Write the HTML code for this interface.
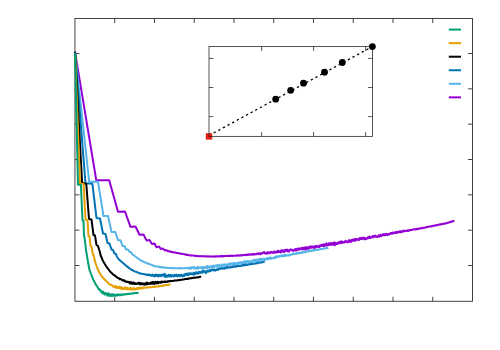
<!DOCTYPE html>
<html><head><meta charset="utf-8"><title>plot</title>
<style>html,body{margin:0;padding:0;background:#fff;font-family:"Liberation Sans",sans-serif;}svg{display:block;}</style>
</head><body>
<svg width="500" height="350" viewBox="0 0 500 350">
<rect width="500" height="350" fill="#fff"/>
<g stroke="#222" stroke-width="0.85" fill="none">
<rect x="74.95" y="18.5" width="397.55" height="282.75"/>
<path d="M114.71,301.25 v-4.5 M114.71,18.5 v4.5"/>
<path d="M154.46,301.25 v-4.5 M154.46,18.5 v4.5"/>
<path d="M194.22,301.25 v-4.5 M194.22,18.5 v4.5"/>
<path d="M233.97,301.25 v-4.5 M233.97,18.5 v4.5"/>
<path d="M273.73,301.25 v-4.5 M273.73,18.5 v4.5"/>
<path d="M313.48,301.25 v-4.5 M313.48,18.5 v4.5"/>
<path d="M353.23,301.25 v-4.5 M353.23,18.5 v4.5"/>
<path d="M392.99,301.25 v-4.5 M392.99,18.5 v4.5"/>
<path d="M432.75,301.25 v-4.5 M432.75,18.5 v4.5"/>
<path d="M74.95,53.50 h4.5 M472.5,53.50 h-4.5"/>
<path d="M74.95,88.84 h4.5 M472.5,88.84 h-4.5"/>
<path d="M74.95,124.17 h4.5 M472.5,124.17 h-4.5"/>
<path d="M74.95,159.50 h4.5 M472.5,159.50 h-4.5"/>
<path d="M74.95,194.83 h4.5 M472.5,194.83 h-4.5"/>
<path d="M74.95,230.17 h4.5 M472.5,230.17 h-4.5"/>
<path d="M74.95,265.50 h4.5 M472.5,265.50 h-4.5"/>
</g>
<path d="M75.00,51.90 L96.30,180.30 L109.20,180.30 L118.00,211.70 L125.00,211.50 L130.50,226.80 L135.50,226.50 L139.50,234.80 L143.50,234.50 L146.50,240.40 L149.50,240.00 L152.00,244.00 L154.50,243.50 L156.50,247.20 L159.00,246.60 L161.00,249.00 L163.00,248.60 L164.70,250.40 L166.50,250.10 L167.80,251.30 L169.50,251.00 L170.60,251.90 L172.00,251.70 L173.00,252.40 L174.50,252.20 L175.50,252.70 L176.40,252.79 L176.80,252.99 L177.20,253.02 L177.60,252.90 L178.00,252.96 L178.40,253.04 L178.80,253.26 L179.20,253.21 L179.60,253.48 L180.00,253.53 L180.42,253.77 L180.83,253.81 L181.25,253.61 L181.67,253.76 L182.08,253.79 L182.50,254.06 L182.92,254.10 L183.33,253.99 L183.75,254.32 L184.17,254.26 L184.58,254.40 L185.00,254.62 L185.42,254.46 L185.83,254.64 L186.25,254.79 L186.67,254.96 L187.08,254.80 L187.50,254.76 L187.92,254.78 L188.33,255.14 L188.75,255.25 L189.17,255.24 L189.58,255.27 L190.00,255.44 L190.42,255.34 L190.83,255.22 L191.25,255.51 L191.67,255.63 L192.08,255.50 L192.50,255.41 L192.92,255.52 L193.33,255.52 L193.75,255.60 L194.17,255.76 L194.58,255.68 L195.00,255.92 L195.42,256.05 L195.83,255.86 L196.25,255.92 L196.67,256.18 L197.08,255.90 L197.50,255.94 L197.92,256.11 L198.33,255.90 L198.75,256.07 L199.17,256.33 L199.58,256.18 L200.00,256.27 L200.41,256.37 L200.82,256.38 L201.24,256.20 L201.65,256.10 L202.06,256.10 L202.47,256.17 L202.88,256.24 L203.29,256.12 L203.71,256.17 L204.12,256.16 L204.53,256.41 L204.94,256.28 L205.35,256.34 L205.76,256.55 L206.18,256.41 L206.59,256.27 L207.00,256.39 L207.41,256.58 L207.82,256.27 L208.24,256.47 L208.65,256.50 L209.06,256.48 L209.47,256.61 L209.88,256.38 L210.29,256.34 L210.71,256.49 L211.12,256.41 L211.53,256.61 L211.94,256.63 L212.35,256.62 L212.76,256.38 L213.18,256.38 L213.59,256.31 L214.00,256.40 L214.40,256.67 L214.80,256.65 L215.20,256.64 L215.60,256.33 L216.00,256.31 L216.40,256.46 L216.80,256.54 L217.20,256.45 L217.60,256.21 L218.00,256.52 L218.40,256.44 L218.80,256.20 L219.20,256.25 L219.60,256.49 L220.00,256.25 L220.40,256.36 L220.80,256.11 L221.20,256.40 L221.60,256.09 L222.00,256.41 L222.40,256.14 L222.80,255.89 L223.20,256.36 L223.60,256.17 L224.00,256.12 L224.40,256.26 L224.80,256.02 L225.20,256.00 L225.60,255.99 L226.00,255.92 L226.40,256.00 L226.80,256.08 L227.20,256.00 L227.60,256.01 L228.00,256.02 L228.40,255.96 L228.80,255.76 L229.20,255.81 L229.60,256.01 L230.00,255.83 L230.40,255.90 L230.80,255.70 L231.20,255.74 L231.60,255.93 L232.00,255.82 L232.40,255.94 L232.80,255.81 L233.20,255.74 L233.60,255.70 L234.00,255.69 L234.40,255.76 L234.80,255.84 L235.20,255.66 L235.60,255.76 L236.00,255.45 L236.40,255.41 L236.80,255.39 L237.20,255.65 L237.60,255.38 L238.00,255.56 L238.40,255.63 L238.80,255.35 L239.20,255.40 L239.60,255.62 L240.00,255.26 L240.40,255.39 L240.80,255.24 L241.20,255.52 L241.60,255.34 L242.00,255.11 L242.40,255.32 L242.80,255.06 L243.20,255.32 L243.60,254.99 L244.00,254.92 L244.40,254.99 L244.80,255.02 L245.20,255.19 L245.60,254.81 L246.00,255.00 L246.40,254.69 L246.80,255.00 L247.20,254.59 L247.60,254.90 L248.00,254.52 L248.40,254.46 L248.80,254.69 L249.20,254.72 L249.60,254.48 L250.00,254.63 L250.40,254.28 L250.80,254.19 L251.20,254.36 L251.60,254.69 L252.00,254.44 L252.40,254.14 L252.80,253.93 L253.20,254.55 L253.60,254.02 L254.00,254.68 L254.40,254.55 L254.80,254.20 L255.20,254.06 L255.60,254.33 L256.00,253.93 L256.40,254.28 L256.80,253.92 L257.20,253.49 L257.60,253.45 L258.00,253.62 L258.40,253.37 L258.80,254.26 L259.20,253.52 L259.60,253.49 L260.00,253.27 L260.40,253.36 L260.80,254.23 L261.20,253.25 L261.60,253.29 L262.00,252.83 L262.40,253.43 L262.80,253.00 L263.20,252.68 L263.60,252.75 L264.00,251.97 L264.40,252.97 L264.80,253.35 L265.20,253.56 L265.60,253.47 L266.00,252.93 L266.40,253.82 L266.80,253.38 L267.20,252.25 L267.60,253.58 L268.00,253.29 L268.40,252.26 L268.80,252.83 L269.20,253.30 L269.60,252.89 L270.00,253.02 L270.40,252.18 L270.80,251.95 L271.20,251.84 L271.60,252.62 L272.00,252.70 L272.40,252.38 L272.80,252.94 L273.20,252.33 L273.60,252.59 L274.00,252.70 L274.40,251.35 L274.80,252.60 L275.20,252.58 L275.60,252.03 L276.00,251.96 L276.40,252.51 L276.80,252.21 L277.20,251.12 L277.60,252.33 L278.00,252.06 L278.40,250.77 L278.80,252.05 L279.20,252.01 L279.60,251.62 L280.00,251.46 L280.40,252.35 L280.80,252.49 L281.20,250.33 L281.60,252.05 L282.00,251.19 L282.40,250.61 L282.80,250.57 L283.20,250.37 L283.60,252.11 L284.00,251.77 L284.40,251.87 L284.80,250.38 L285.20,250.87 L285.60,249.79 L286.00,250.73 L286.40,250.00 L286.80,250.34 L287.20,249.60 L287.60,251.39 L288.00,251.54 L288.40,251.43 L288.80,250.20 L289.20,251.53 L289.60,250.06 L290.00,249.82 L290.40,249.38 L290.80,249.73 L291.20,249.59 L291.60,250.11 L292.00,249.75 L292.40,250.82 L292.80,250.20 L293.20,250.83 L293.60,250.28 L294.00,250.25 L294.40,250.24 L294.80,249.16 L295.20,250.51 L295.60,249.45 L296.00,249.01 L296.40,250.45 L296.80,249.69 L297.20,249.41 L297.60,248.50 L298.00,248.53 L298.40,249.11 L298.80,249.95 L299.20,248.89 L299.60,248.27 L300.00,248.54 L300.40,248.25 L300.80,248.92 L301.20,249.26 L301.60,248.47 L302.00,248.33 L302.40,247.58 L302.80,249.52 L303.20,248.44 L303.60,249.18 L304.00,247.82 L304.40,248.05 L304.80,249.22 L305.20,249.81 L305.60,247.08 L306.00,248.93 L306.40,248.39 L306.80,247.71 L307.20,248.61 L307.60,248.88 L308.00,246.93 L308.40,247.78 L308.80,248.65 L309.20,247.95 L309.60,247.47 L310.00,246.50 L310.40,246.87 L310.80,247.73 L311.20,246.53 L311.60,247.60 L312.00,246.39 L312.40,247.24 L312.80,246.89 L313.20,247.52 L313.60,246.59 L314.00,247.98 L314.40,247.76 L314.80,246.28 L315.20,247.82 L315.60,245.91 L316.00,246.70 L316.40,246.45 L316.80,246.92 L317.20,245.88 L317.60,246.05 L318.00,246.73 L318.40,246.91 L318.80,246.19 L319.20,247.14 L319.60,246.74 L320.00,245.34 L320.40,245.43 L320.80,245.80 L321.20,245.13 L321.60,246.02 L322.00,244.81 L322.40,244.88 L322.80,244.65 L323.20,244.40 L323.60,246.16 L324.00,245.73 L324.40,246.09 L324.80,244.37 L325.20,245.53 L325.60,245.28 L326.00,244.57 L326.40,243.31 L326.80,244.21 L327.20,245.62 L327.60,245.57 L328.00,244.16 L328.40,245.11 L328.80,243.33 L329.20,243.97 L329.60,243.50 L330.00,244.97 L330.40,243.84 L330.80,244.56 L331.20,242.89 L331.60,244.78 L332.00,244.33 L332.40,243.37 L332.80,244.67 L333.20,243.08 L333.60,243.14 L334.00,242.39 L334.40,244.33 L334.80,245.30 L335.20,242.71 L335.60,244.23 L336.00,242.92 L336.40,242.95 L336.80,243.98 L337.20,243.65 L337.60,243.63 L338.00,243.09 L338.40,242.40 L338.80,243.35 L339.20,242.00 L339.60,242.05 L340.00,241.52 L340.40,242.10 L340.80,243.26 L341.20,241.84 L341.60,241.41 L342.00,242.69 L342.40,241.59 L342.80,242.37 L343.20,242.59 L343.60,242.35 L344.00,242.67 L344.40,242.01 L344.80,242.32 L345.20,241.18 L345.60,240.91 L346.00,241.78 L346.40,241.32 L346.80,241.50 L347.20,242.10 L347.60,242.44 L348.00,241.24 L348.40,241.98 L348.80,240.15 L349.20,240.25 L349.60,242.05 L350.00,241.89 L350.40,241.68 L350.80,240.27 L351.20,241.71 L351.60,240.87 L352.00,239.96 L352.40,239.73 L352.80,239.90 L353.20,240.71 L353.60,239.23 L354.00,240.62 L354.40,239.74 L354.80,240.74 L355.20,239.05 L355.60,239.71 L356.00,240.18 L356.40,239.06 L356.80,239.53 L357.20,239.23 L357.60,239.17 L358.00,239.20 L358.40,240.24 L358.80,239.07 L359.20,239.80 L359.60,238.14 L360.00,238.99 L360.40,238.88 L360.80,238.93 L361.20,237.88 L361.60,239.18 L362.00,237.90 L362.40,238.45 L362.80,237.88 L363.20,238.64 L363.60,237.67 L364.00,239.13 L364.40,237.72 L364.80,239.29 L365.20,238.21 L365.60,239.12 L366.00,239.00 L366.40,238.76 L366.80,238.61 L367.20,237.70 L367.60,238.56 L368.00,237.15 L368.40,237.74 L368.80,236.81 L369.20,238.06 L369.60,236.49 L370.00,237.99 L370.40,238.10 L370.80,237.51 L371.20,237.50 L371.60,236.98 L372.00,236.92 L372.40,236.90 L372.80,235.90 L373.20,236.86 L373.60,237.39 L374.00,236.65 L374.40,236.62 L374.80,235.79 L375.20,235.64 L375.60,236.49 L376.00,236.69 L376.40,236.83 L376.80,236.28 L377.20,236.19 L377.60,237.05 L378.00,236.77 L378.40,236.43 L378.80,235.25 L379.20,235.79 L379.60,236.57 L380.00,236.23 L380.40,234.73 L380.80,236.01 L381.20,236.20 L381.60,235.97 L382.00,235.29 L382.40,234.66 L382.80,235.15 L383.20,234.20 L383.60,234.37 L384.00,235.24 L384.40,234.24 L384.80,234.08 L385.20,234.93 L385.60,235.27 L386.00,234.68 L386.40,233.79 L386.80,234.62 L387.20,234.82 L387.60,235.07 L388.00,233.94 L388.40,234.00 L388.80,234.42 L389.20,234.46 L389.60,234.10 L390.00,233.93 L390.40,233.14 L390.80,232.93 L391.20,233.75 L391.60,233.51 L392.00,232.87 L392.40,233.79 L392.80,232.54 L393.20,232.62 L393.60,232.71 L394.00,233.15 L394.40,233.12 L394.80,232.37 L395.20,232.45 L395.60,232.18 L396.00,233.13 L396.40,232.44 L396.80,231.86 L397.20,232.49 L397.60,232.52 L398.00,232.80 L398.40,231.87 L398.80,231.55 L399.20,231.91 L399.60,231.43 L400.00,231.31 L400.40,232.30 L400.80,231.38 L401.20,231.65 L401.60,231.90 L402.00,231.28 L402.40,230.93 L402.80,231.62 L403.20,230.75 L403.60,231.42 L404.00,231.34 L404.40,230.77 L404.80,230.72 L405.20,230.76 L405.60,231.03 L406.00,230.98 L406.40,230.77 L406.80,230.91 L407.20,230.40 L407.60,230.92 L408.00,231.09 L408.40,230.22 L408.80,230.54 L409.20,230.47 L409.60,230.51 L410.00,229.97 L410.40,230.19 L410.80,230.15 L411.20,229.95 L411.60,230.04 L412.00,229.80 L412.40,229.82 L412.80,229.54 L413.20,229.40 L413.60,229.18 L414.00,229.31 L414.40,229.38 L414.80,229.15 L415.20,229.44 L415.60,229.38 L416.00,229.01 L416.40,229.09 L416.80,229.23 L417.20,228.83 L417.60,229.15 L418.00,228.73 L418.40,228.65 L418.80,228.89 L419.20,228.72 L419.60,228.64 L420.00,228.32 L420.40,228.53 L420.80,228.26 L421.20,228.05 L421.60,228.08 L422.00,228.04 L422.40,228.22 L422.80,228.09 L423.20,227.65 L423.60,227.75 L424.00,227.63 L424.40,227.64 L424.80,227.70 L425.20,227.60 L425.60,227.16 L426.00,227.42 L426.40,227.00 L426.80,227.14 L427.20,226.92 L427.60,226.91 L428.00,226.79 L428.40,226.72 L428.80,226.83 L429.20,226.49 L429.60,226.40 L430.00,226.59 L430.40,226.48 L430.80,226.30 L431.20,226.43 L431.60,226.52 L432.00,225.97 L432.40,226.20 L432.80,225.89 L433.20,225.74 L433.60,225.79 L434.00,225.81 L434.40,225.55 L434.80,225.39 L435.20,225.53 L435.60,225.23 L436.00,225.42 L436.40,225.06 L436.80,225.31 L437.20,224.92 L437.60,225.07 L438.00,224.75 L438.40,224.71 L438.80,224.75 L439.20,224.58 L439.60,224.79 L440.00,224.32 L440.40,224.24 L440.80,224.55 L441.20,224.36 L441.60,224.05 L442.00,223.93 L442.40,223.97 L442.80,223.90 L443.20,223.95 L443.60,223.84 L444.00,223.54 L444.40,223.58 L444.80,223.72 L445.20,223.49 L445.60,223.35 L446.00,223.40 L446.42,223.30 L446.84,223.22 L447.26,223.00 L447.68,222.74 L448.10,222.52 L448.52,222.70 L448.94,222.52 L449.36,222.31 L449.78,222.27 L450.20,222.18 L450.62,221.84 L451.04,221.98 L451.46,221.74 L451.88,221.42 L452.30,221.35 L452.72,221.57 L453.14,221.08 L453.56,221.16 L453.98,221.03 L454.40,221.04" fill="none" stroke="#9400d3" stroke-width="2" stroke-linejoin="round" stroke-linecap="butt"/>
<path d="M75.00,51.90 L89.20,181.80 L98.00,181.80 L103.50,216.00 L108.00,216.00 L111.50,232.00 L115.30,232.00 L118.00,240.30 L120.50,240.20 L122.50,246.00 L124.50,246.00 L126.00,249.50 L128.00,249.50 L129.50,252.00 L131.00,252.00 L132.00,254.00 L136.00,257.00 L140.00,260.00 L147.00,263.30 L147.41,263.42 L147.82,263.49 L148.24,263.72 L148.65,263.76 L149.06,264.01 L149.47,264.13 L149.88,264.18 L150.29,264.49 L150.71,264.62 L151.12,264.72 L151.53,265.16 L151.94,265.02 L152.35,265.25 L152.76,265.29 L153.18,265.72 L153.59,265.73 L154.00,265.79 L154.41,265.92 L154.82,266.18 L155.24,266.12 L155.65,266.23 L156.06,266.42 L156.47,266.50 L156.88,266.39 L157.29,266.48 L157.71,266.39 L158.12,266.58 L158.53,266.66 L158.94,266.79 L159.35,266.96 L159.76,267.14 L160.18,266.87 L160.59,267.29 L161.00,267.06 L161.41,267.35 L161.82,267.10 L162.24,267.40 L162.65,267.23 L163.06,267.33 L163.47,267.42 L163.88,267.69 L164.29,267.44 L164.71,267.67 L165.12,267.74 L165.53,267.83 L165.94,267.64 L166.35,267.82 L166.76,267.83 L167.18,267.93 L167.59,267.85 L168.00,268.00 L168.41,268.00 L168.82,268.02 L169.24,268.05 L169.65,267.85 L170.06,268.05 L170.47,268.14 L170.88,268.03 L171.29,268.28 L171.71,268.16 L172.12,267.93 L172.53,268.20 L172.94,268.07 L173.35,268.16 L173.76,268.32 L174.18,268.26 L174.59,268.12 L175.00,268.15 L175.41,268.21 L175.82,268.08 L176.24,268.17 L176.65,268.33 L177.06,268.33 L177.47,268.20 L177.88,268.20 L178.29,268.26 L178.71,268.13 L179.12,268.12 L179.53,268.25 L179.94,268.02 L180.35,268.35 L180.76,268.02 L181.18,268.00 L181.59,268.37 L182.00,268.26 L182.41,268.36 L182.82,268.24 L183.24,268.27 L183.65,268.27 L184.06,268.27 L184.47,268.33 L184.88,267.98 L185.29,268.36 L185.71,268.28 L186.12,268.41 L186.53,268.22 L186.94,268.00 L187.35,268.00 L187.76,268.29 L188.18,267.72 L188.59,267.68 L189.00,268.48 L189.41,268.62 L189.82,267.58 L190.24,268.25 L190.65,268.74 L191.06,268.02 L191.47,268.33 L191.88,267.15 L192.29,267.41 L192.71,267.56 L193.12,267.49 L193.53,266.94 L193.94,268.47 L194.35,268.50 L194.76,267.33 L195.18,268.48 L195.59,268.52 L196.00,268.34 L196.41,268.00 L196.82,267.57 L197.24,268.90 L197.65,267.01 L198.06,268.65 L198.47,267.55 L198.88,267.20 L199.29,267.88 L199.71,267.60 L200.12,267.73 L200.53,267.06 L200.94,267.52 L201.35,268.08 L201.76,267.52 L202.18,268.73 L202.59,267.87 L203.00,266.73 L203.41,268.10 L203.81,267.23 L204.22,268.61 L204.63,267.73 L205.04,267.30 L205.44,267.14 L205.85,267.59 L206.26,267.99 L206.67,266.17 L207.07,267.05 L207.48,267.87 L207.89,266.12 L208.30,267.76 L208.70,267.18 L209.11,267.75 L209.52,267.34 L209.93,266.54 L210.33,266.95 L210.74,266.13 L211.15,267.69 L211.56,266.92 L211.96,266.56 L212.37,266.05 L212.78,267.19 L213.19,265.59 L213.59,267.05 L214.00,266.58 L214.40,267.20 L214.80,266.25 L215.20,265.56 L215.60,265.49 L216.00,265.84 L216.40,265.88 L216.80,265.27 L217.20,267.08 L217.60,265.07 L218.00,266.52 L218.40,266.05 L218.80,265.87 L219.20,264.71 L219.60,266.49 L220.00,265.78 L220.40,266.19 L220.80,266.51 L221.20,266.18 L221.60,264.88 L222.00,264.71 L222.40,264.40 L222.80,265.39 L223.20,265.13 L223.60,266.07 L224.00,265.33 L224.40,264.23 L224.80,264.48 L225.20,265.27 L225.60,265.28 L226.00,264.74 L226.40,265.83 L226.80,264.14 L227.20,264.17 L227.60,265.54 L228.00,265.34 L228.40,265.18 L228.80,264.83 L229.20,263.48 L229.60,264.97 L230.00,264.75 L230.40,264.51 L230.80,263.39 L231.20,263.68 L231.60,264.12 L232.00,263.54 L232.40,264.85 L232.80,264.50 L233.20,262.95 L233.60,263.31 L234.00,264.68 L234.40,263.03 L234.80,262.89 L235.20,264.48 L235.60,263.57 L236.00,264.34 L236.40,263.86 L236.80,262.92 L237.20,263.95 L237.60,262.65 L238.00,262.87 L238.40,262.58 L238.80,264.04 L239.20,262.51 L239.60,262.79 L240.00,262.29 L240.40,262.12 L240.80,263.42 L241.20,262.95 L241.60,262.42 L242.00,262.60 L242.40,263.93 L242.80,261.88 L243.20,263.57 L243.60,263.12 L244.00,264.66 L244.40,263.16 L244.80,260.84 L245.20,263.08 L245.60,261.59 L246.00,263.12 L246.40,262.30 L246.80,261.37 L247.20,262.47 L247.60,261.01 L248.00,262.11 L248.40,261.31 L248.80,261.98 L249.20,262.35 L249.60,260.94 L250.00,262.04 L250.40,261.95 L250.80,262.07 L251.20,262.07 L251.60,261.22 L252.00,262.08 L252.40,261.92 L252.80,260.37 L253.20,260.69 L253.60,260.64 L254.00,259.79 L254.40,260.66 L254.80,259.91 L255.20,261.30 L255.60,260.19 L256.00,260.25 L256.40,259.53 L256.80,261.30 L257.20,260.33 L257.60,260.39 L258.00,261.12 L258.40,259.46 L258.80,259.54 L259.20,259.03 L259.60,260.30 L260.00,258.89 L260.40,259.93 L260.80,260.11 L261.20,260.37 L261.60,258.70 L262.00,259.50 L262.40,259.03 L262.80,259.20 L263.20,259.49 L263.60,258.58 L264.00,259.65 L264.40,259.73 L264.80,258.85 L265.20,259.62 L265.60,258.73 L266.00,259.36 L266.40,258.32 L266.80,258.61 L267.20,259.21 L267.60,259.16 L268.00,257.73 L268.40,259.28 L268.80,257.95 L269.20,258.56 L269.60,258.32 L270.00,258.08 L270.40,257.30 L270.80,258.86 L271.20,258.73 L271.60,258.43 L272.00,258.48 L272.40,258.00 L272.80,257.98 L273.20,257.68 L273.60,257.74 L274.00,257.50 L274.40,258.13 L274.80,257.01 L275.20,256.64 L275.60,257.90 L276.00,256.73 L276.40,257.08 L276.80,256.36 L277.20,256.56 L277.60,256.48 L278.00,256.10 L278.40,257.18 L278.80,256.69 L279.20,256.06 L279.60,256.38 L280.00,256.53 L280.40,256.01 L280.80,255.81 L281.20,255.98 L281.60,255.36 L282.00,256.52 L282.40,256.01 L282.80,255.55 L283.20,255.49 L283.60,255.23 L284.00,256.15 L284.40,254.95 L284.80,255.40 L285.20,254.88 L285.60,255.96 L286.00,254.80 L286.40,255.00 L286.80,255.27 L287.20,255.47 L287.60,255.29 L288.00,255.24 L288.40,255.19 L288.80,255.29 L289.20,255.62 L289.60,254.95 L290.00,254.54 L290.40,254.56 L290.80,254.75 L291.20,254.46 L291.60,254.20 L292.00,254.45 L292.40,253.98 L292.80,253.91 L293.20,254.31 L293.60,253.90 L294.00,253.47 L294.40,253.35 L294.80,253.78 L295.20,254.08 L295.60,253.92 L296.00,253.98 L296.40,253.32 L296.80,252.80 L297.20,253.33 L297.60,253.63 L298.00,253.15 L298.40,253.06 L298.80,253.16 L299.20,252.75 L299.60,252.68 L300.00,252.93 L300.40,252.29 L300.80,252.52 L301.20,252.61 L301.60,252.92 L302.00,252.34 L302.40,252.80 L302.80,252.29 L303.20,251.89 L303.60,252.56 L304.00,252.07 L304.40,252.34 L304.80,252.20 L305.20,252.19 L305.60,251.49 L306.00,251.72 L306.40,251.38 L306.80,251.69 L307.20,251.39 L307.60,251.55 L308.00,251.30 L308.40,251.15 L308.80,250.84 L309.20,251.43 L309.60,251.23 L310.00,251.03 L310.40,250.78 L310.80,250.91 L311.20,250.88 L311.60,250.48 L312.00,250.87 L312.40,250.34 L312.80,250.56 L313.20,250.56 L313.60,249.82 L314.00,250.52 L314.40,250.41 L314.80,249.99 L315.20,249.88 L315.60,250.12 L316.00,249.97 L316.41,249.66 L316.82,249.91 L317.23,249.75 L317.64,249.58 L318.05,249.89 L318.46,249.48 L318.87,249.68 L319.28,249.49 L319.69,249.37 L320.10,249.17 L320.51,249.34 L320.92,249.07 L321.33,249.08 L321.74,248.90 L322.15,248.88 L322.56,249.09 L322.97,248.84 L323.38,248.75 L323.79,248.63 L324.20,248.43 L324.61,248.46 L325.02,248.32 L325.43,248.27 L325.84,248.39 L326.25,248.10 L326.66,248.00 L327.07,248.26 L327.48,248.02 L327.89,248.10 L328.30,247.84" fill="none" stroke="#56b4e9" stroke-width="2" stroke-linejoin="round" stroke-linecap="butt"/>
<path d="M75.00,51.90 L85.50,183.30 L92.40,183.80 L96.50,218.00 L100.00,218.50 L103.00,233.50 L105.50,234.00 L107.50,243.00 L109.50,243.50 L111.50,249.50 L113.00,250.00 L114.50,253.50 L116.00,254.00 L117.00,257.00 L119.00,259.50 L123.00,263.00 L127.00,266.40 L129.50,268.35 L130.00,268.68 L130.42,269.04 L130.83,269.25 L131.25,269.58 L131.67,269.89 L132.08,269.91 L132.50,270.24 L132.92,270.58 L133.33,270.67 L133.75,270.81 L134.17,271.09 L134.58,271.39 L135.00,271.56 L135.42,271.62 L135.83,271.83 L136.25,271.89 L136.67,272.14 L137.08,272.27 L137.50,272.42 L137.92,272.50 L138.33,272.71 L138.75,273.11 L139.17,273.25 L139.58,273.10 L140.00,273.21 L140.41,273.55 L140.82,273.53 L141.24,273.73 L141.65,273.87 L142.06,273.86 L142.47,273.74 L142.88,274.07 L143.29,273.88 L143.71,274.01 L144.12,274.14 L144.53,274.12 L144.94,274.44 L145.35,274.61 L145.76,274.65 L146.18,274.60 L146.59,274.54 L147.00,275.02 L147.41,274.68 L147.82,275.15 L148.24,274.51 L148.65,274.58 L149.06,274.68 L149.47,275.28 L149.88,275.27 L150.29,275.38 L150.71,274.83 L151.12,275.76 L151.53,275.80 L151.94,275.58 L152.35,275.46 L152.76,274.56 L153.18,275.21 L153.59,276.13 L154.00,275.89 L154.40,275.80 L154.80,274.95 L155.20,276.40 L155.60,275.54 L156.00,274.49 L156.40,275.27 L156.80,275.06 L157.20,275.95 L157.60,274.93 L158.00,275.55 L158.40,276.48 L158.80,275.10 L159.20,274.76 L159.60,275.19 L160.00,275.68 L160.40,274.86 L160.80,275.81 L161.20,276.19 L161.60,274.77 L162.00,275.32 L162.40,274.67 L162.80,274.99 L163.20,275.55 L163.60,275.29 L164.00,275.38 L164.40,273.81 L164.80,276.79 L165.20,274.80 L165.60,276.79 L166.00,274.88 L166.40,275.61 L166.80,275.96 L167.20,276.70 L167.60,276.07 L168.00,276.14 L168.40,275.23 L168.80,274.73 L169.20,276.50 L169.60,275.05 L170.00,276.49 L170.40,274.98 L170.80,276.43 L171.20,275.30 L171.60,276.39 L172.00,275.37 L172.40,275.36 L172.80,275.06 L173.20,275.76 L173.60,276.30 L174.00,276.48 L174.40,275.56 L174.80,274.80 L175.20,275.72 L175.60,275.94 L176.00,275.39 L176.40,274.60 L176.80,275.35 L177.20,276.45 L177.60,276.21 L178.00,276.07 L178.40,274.95 L178.80,275.45 L179.20,275.05 L179.60,275.75 L180.00,276.26 L180.40,274.91 L180.80,275.48 L181.20,274.66 L181.60,274.93 L182.00,276.34 L182.40,276.04 L182.80,276.20 L183.20,275.80 L183.60,275.45 L184.00,274.55 L184.40,275.94 L184.80,275.20 L185.20,274.48 L185.60,273.72 L186.00,275.09 L186.40,273.73 L186.80,274.30 L187.20,274.34 L187.60,274.60 L188.00,273.55 L188.40,275.20 L188.80,273.43 L189.20,273.68 L189.60,274.23 L190.00,274.08 L190.40,273.44 L190.80,273.13 L191.20,274.11 L191.60,273.66 L192.00,273.67 L192.40,273.85 L192.80,274.25 L193.20,274.70 L193.60,272.68 L194.00,273.26 L194.40,274.45 L194.80,273.98 L195.20,273.93 L195.60,272.69 L196.00,272.15 L196.40,272.51 L196.80,273.51 L197.20,273.82 L197.60,273.71 L198.00,273.73 L198.40,272.09 L198.80,272.39 L199.20,273.02 L199.60,271.81 L200.00,273.00 L200.40,272.89 L200.80,272.59 L201.20,272.41 L201.60,271.47 L202.00,272.52 L202.40,271.50 L202.80,272.69 L203.20,270.47 L203.60,271.15 L204.00,271.23 L204.40,271.36 L204.80,271.47 L205.20,272.32 L205.60,271.91 L206.00,273.14 L206.40,271.13 L206.80,271.35 L207.20,271.82 L207.60,270.64 L208.00,271.46 L208.40,271.03 L208.80,271.61 L209.20,271.59 L209.60,270.14 L210.00,270.31 L210.40,270.88 L210.80,270.10 L211.20,270.53 L211.60,270.32 L212.00,269.62 L212.40,269.82 L212.80,270.22 L213.20,269.48 L213.60,270.41 L214.00,269.71 L214.40,269.62 L214.80,269.96 L215.20,270.61 L215.60,269.87 L216.00,270.26 L216.40,269.83 L216.80,269.35 L217.20,269.92 L217.60,270.05 L218.00,269.05 L218.40,269.60 L218.80,269.38 L219.20,269.18 L219.60,268.43 L220.00,268.72 L220.40,268.87 L220.80,268.47 L221.20,268.54 L221.60,268.02 L222.00,268.54 L222.40,268.62 L222.80,268.02 L223.20,268.13 L223.60,268.59 L224.00,268.78 L224.40,268.68 L224.80,267.57 L225.20,268.11 L225.60,267.77 L226.00,267.78 L226.40,267.28 L226.80,268.18 L227.20,267.09 L227.60,267.19 L228.00,267.73 L228.40,267.33 L228.80,267.50 L229.20,267.49 L229.60,267.52 L230.00,267.32 L230.40,267.48 L230.80,266.94 L231.20,266.72 L231.60,267.36 L232.00,267.35 L232.40,266.70 L232.80,266.96 L233.20,266.93 L233.60,266.28 L234.00,266.22 L234.40,266.43 L234.80,266.62 L235.20,266.41 L235.60,266.79 L236.00,266.78 L236.40,266.40 L236.80,266.10 L237.20,265.90 L237.60,266.35 L238.00,266.32 L238.40,266.04 L238.80,266.00 L239.20,265.98 L239.60,266.02 L240.00,265.94 L240.40,265.93 L240.80,265.86 L241.20,265.58 L241.60,265.57 L242.00,265.01 L242.40,265.42 L242.80,265.56 L243.20,265.63 L243.60,265.42 L244.00,264.92 L244.40,264.88 L244.80,265.11 L245.20,265.27 L245.60,264.77 L246.00,265.03 L246.40,264.49 L246.80,264.92 L247.20,264.96 L247.60,264.73 L248.00,264.74 L248.40,264.46 L248.80,264.30 L249.20,264.23 L249.60,264.32 L250.00,264.11 L250.40,264.20 L250.80,264.38 L251.20,264.00 L251.60,263.96 L252.00,263.88 L252.40,264.05 L252.80,263.79 L253.20,263.70 L253.60,263.61 L254.00,263.86 L254.40,263.75 L254.80,263.48 L255.20,263.51 L255.60,263.31 L256.00,263.44 L256.40,263.36 L256.80,263.12 L257.20,263.11 L257.60,263.25 L258.00,263.17 L258.40,262.76 L258.80,262.69 L259.20,262.57 L259.60,262.55 L260.00,262.45 L260.40,262.63 L260.80,262.40 L261.20,262.49 L261.60,262.53 L262.00,262.12 L262.40,262.25 L262.80,262.09 L263.20,261.98 L263.60,261.72 L264.00,261.77 L264.40,261.61 L264.80,261.54" fill="none" stroke="#0072b2" stroke-width="2" stroke-linejoin="round" stroke-linecap="butt"/>
<path d="M75.00,51.90 L82.10,182.80 L86.30,184.00 L89.00,219.00 L91.50,219.50 L93.50,235.00 L95.00,235.50 L96.50,245.00 L98.00,246.00 L100.00,252.50 L100.50,255.00 L103.00,261.00 L106.00,266.00 L110.00,271.50 L111.40,272.72 L111.80,273.10 L112.20,273.63 L112.60,273.95 L113.00,274.57 L113.42,274.58 L113.83,275.14 L114.25,275.18 L114.67,275.47 L115.08,275.68 L115.50,276.11 L115.92,276.33 L116.33,276.81 L116.75,277.04 L117.17,277.39 L117.58,277.76 L118.00,277.86 L118.42,278.07 L118.83,278.25 L119.25,278.46 L119.67,279.20 L120.08,278.96 L120.50,278.95 L120.92,279.22 L121.33,279.27 L121.75,279.98 L122.17,280.26 L122.58,280.28 L123.00,280.45 L123.42,280.26 L123.83,280.06 L124.25,281.19 L124.67,281.05 L125.08,280.74 L125.50,281.58 L125.92,281.71 L126.33,281.61 L126.75,282.00 L127.17,282.09 L127.58,281.57 L128.00,281.79 L128.42,282.23 L128.83,282.41 L129.25,281.91 L129.67,283.39 L130.08,282.67 L130.50,283.37 L130.92,282.07 L131.33,282.78 L131.75,283.67 L132.17,283.84 L132.58,282.86 L133.00,283.90 L133.42,282.47 L133.83,282.39 L134.25,283.97 L134.67,283.23 L135.08,283.14 L135.50,283.83 L135.92,283.39 L136.33,284.04 L136.75,283.90 L137.17,283.58 L137.58,283.28 L138.00,283.08 L138.41,282.95 L138.82,282.64 L139.24,284.10 L139.65,283.24 L140.06,284.36 L140.47,283.93 L140.88,282.98 L141.29,284.29 L141.71,283.37 L142.12,283.53 L142.53,284.13 L142.94,283.47 L143.35,284.36 L143.76,283.43 L144.18,284.62 L144.59,284.73 L145.00,283.42 L145.41,283.29 L145.82,284.20 L146.23,283.66 L146.64,284.46 L147.05,282.50 L147.45,283.43 L147.86,284.22 L148.27,283.39 L148.68,283.28 L149.09,283.41 L149.50,283.72 L149.91,283.10 L150.32,283.68 L150.73,283.85 L151.14,282.38 L151.55,282.26 L151.95,282.28 L152.36,283.68 L152.77,282.12 L153.18,283.53 L153.59,282.05 L154.00,282.82 L154.40,284.05 L154.80,283.73 L155.20,282.50 L155.60,281.77 L156.00,282.30 L156.40,282.35 L156.80,283.39 L157.20,282.66 L157.60,281.75 L158.00,283.21 L158.40,283.13 L158.80,281.94 L159.20,282.47 L159.60,282.30 L160.00,282.45 L160.40,282.73 L160.80,282.84 L161.20,281.54 L161.60,282.18 L162.00,282.17 L162.40,281.75 L162.80,281.74 L163.20,282.30 L163.60,281.85 L164.00,281.80 L164.40,281.36 L164.80,281.90 L165.20,282.05 L165.60,281.76 L166.00,281.97 L166.40,281.81 L166.80,281.66 L167.20,281.35 L167.60,281.65 L168.00,281.64 L168.40,281.15 L168.80,281.44 L169.20,281.22 L169.60,281.10 L170.00,281.24 L170.40,280.91 L170.80,280.86 L171.20,280.92 L171.60,281.00 L172.00,280.94 L172.40,281.05 L172.80,280.97 L173.20,280.90 L173.60,280.67 L174.00,280.62 L174.40,280.50 L174.80,280.40 L175.20,280.63 L175.60,280.56 L176.00,280.57 L176.40,280.57 L176.80,280.52 L177.20,280.19 L177.60,280.34 L178.00,280.37 L178.40,280.13 L178.80,280.13 L179.20,279.86 L179.60,279.89 L180.00,280.09 L180.40,280.08 L180.80,279.89 L181.20,279.73 L181.60,279.82 L182.00,279.63 L182.40,279.53 L182.80,279.43 L183.20,279.42 L183.60,279.47 L184.00,279.41 L184.40,279.36 L184.80,279.05 L185.20,279.02 L185.60,278.97 L186.00,279.01 L186.40,279.08 L186.80,278.80 L187.20,278.81 L187.60,278.98 L188.00,278.60 L188.40,278.86 L188.80,278.63 L189.20,278.40 L189.60,278.36 L190.00,278.45 L190.40,278.25 L190.80,278.19 L191.20,278.14 L191.60,278.19 L192.00,277.92 L192.40,278.06 L192.80,278.03 L193.20,277.82 L193.60,277.72 L194.00,277.61 L194.40,277.76 L194.80,277.86 L195.20,277.66 L195.60,277.60 L196.00,277.59 L196.43,277.31 L196.87,277.56 L197.30,277.33 L197.73,277.34 L198.17,277.26 L198.60,277.42 L199.03,277.17 L199.47,276.86 L199.90,276.71 L200.33,276.83 L200.77,276.61 L201.20,276.47" fill="none" stroke="#000000" stroke-width="2" stroke-linejoin="round" stroke-linecap="butt"/>
<path d="M75.00,51.90 L80.00,183.50 L83.60,183.80 L85.50,219.50 L87.50,220.00 L88.50,236.00 L89.50,236.50 L90.50,246.00 L91.50,246.50 L93.00,255.00 L93.50,255.00 L95.50,263.00 L98.00,270.00 L101.00,275.30 L102.43,276.88 L102.86,277.63 L103.29,277.92 L103.71,278.53 L104.14,279.01 L104.57,279.29 L105.00,280.04 L105.42,280.11 L105.83,280.59 L106.25,281.21 L106.67,281.50 L107.08,281.91 L107.50,282.31 L107.92,282.66 L108.33,282.94 L108.75,283.45 L109.17,283.88 L109.58,284.36 L110.00,284.76 L110.42,285.02 L110.83,284.58 L111.25,284.74 L111.67,285.19 L112.08,285.43 L112.50,285.89 L112.92,285.71 L113.33,286.50 L113.75,286.96 L114.17,286.33 L114.58,286.95 L115.00,286.61 L115.42,287.62 L115.83,286.09 L116.25,286.16 L116.67,287.90 L117.08,287.55 L117.50,287.04 L117.92,287.16 L118.33,287.83 L118.75,286.74 L119.17,288.18 L119.58,288.17 L120.00,287.07 L120.42,286.93 L120.83,287.29 L121.25,289.03 L121.67,287.46 L122.08,288.35 L122.50,287.92 L122.92,289.19 L123.33,289.31 L123.75,289.00 L124.17,288.44 L124.58,287.64 L125.00,288.30 L125.42,287.89 L125.83,287.59 L126.25,289.30 L126.67,288.26 L127.08,289.43 L127.50,287.67 L127.92,288.51 L128.33,288.36 L128.75,288.99 L129.17,288.78 L129.58,289.66 L130.00,288.50 L130.42,287.82 L130.83,289.19 L131.25,288.66 L131.67,289.63 L132.08,289.31 L132.50,288.37 L132.92,289.74 L133.33,287.95 L133.75,288.89 L134.17,288.48 L134.58,289.02 L135.00,289.28 L135.42,288.74 L135.83,289.59 L136.25,289.16 L136.67,288.27 L137.08,288.84 L137.50,288.00 L137.92,288.48 L138.33,288.78 L138.75,287.68 L139.17,288.77 L139.58,288.49 L140.00,287.84 L140.40,287.81 L140.80,288.61 L141.20,287.64 L141.60,288.46 L142.00,287.76 L142.40,287.53 L142.80,287.78 L143.20,288.23 L143.60,287.59 L144.00,287.75 L144.40,287.83 L144.80,287.61 L145.20,287.81 L145.60,287.68 L146.00,287.73 L146.40,287.53 L146.80,287.57 L147.20,287.58 L147.60,287.61 L148.00,287.60 L148.40,287.36 L148.80,287.29 L149.20,287.17 L149.60,287.44 L150.00,287.26 L150.40,287.08 L150.80,287.27 L151.20,287.21 L151.60,287.23 L152.00,287.25 L152.40,286.94 L152.80,287.10 L153.20,286.78 L153.60,286.88 L154.00,286.89 L154.40,286.61 L154.80,286.53 L155.20,286.68 L155.60,286.70 L156.00,286.54 L156.40,286.43 L156.80,286.61 L157.20,286.28 L157.60,286.50 L158.00,286.52 L158.40,286.40 L158.80,286.31 L159.20,286.03 L159.60,286.24 L160.00,286.00 L160.40,286.08 L160.80,285.88 L161.20,285.79 L161.60,285.93 L162.00,285.93 L162.40,285.82 L162.80,285.82 L163.20,285.39 L163.60,285.39 L164.00,285.29 L164.40,285.45 L164.80,285.16 L165.20,285.13 L165.60,285.30 L166.00,285.10 L166.40,284.99 L166.80,284.93 L167.20,285.13 L167.60,284.72 L168.00,284.66 L168.40,284.77 L168.80,284.80 L169.20,284.72 L169.60,284.63 L170.00,284.44 L170.40,284.72" fill="none" stroke="#e69f00" stroke-width="2" stroke-linejoin="round" stroke-linecap="butt"/>
<path d="M75.00,51.90 L78.00,184.80 L80.90,184.80 L82.50,220.50 L83.50,220.80 L84.00,236.50 L84.50,237.00 L86.00,250.00 L87.00,256.00 L88.00,262.00 L89.50,270.00 L92.00,276.50 L93.50,280.06 L94.00,281.19 L94.40,281.77 L94.80,282.54 L95.20,283.42 L95.60,284.06 L96.00,284.86 L96.40,285.36 L96.80,286.07 L97.20,286.50 L97.60,287.04 L98.00,287.84 L98.43,288.72 L98.86,289.29 L99.29,289.63 L99.71,289.38 L100.14,289.79 L100.57,291.30 L101.00,291.12 L101.40,291.16 L101.80,292.88 L102.20,291.33 L102.60,292.16 L103.00,293.37 L103.40,292.06 L103.80,292.42 L104.20,293.36 L104.60,294.57 L105.00,293.85 L105.42,293.19 L105.83,294.26 L106.25,293.59 L106.67,293.28 L107.08,294.90 L107.50,295.61 L107.92,295.17 L108.33,295.45 L108.75,293.26 L109.17,294.35 L109.58,294.56 L110.00,295.93 L110.42,295.12 L110.83,296.05 L111.25,294.24 L111.67,295.46 L112.08,295.15 L112.50,294.53 L112.92,296.06 L113.33,294.30 L113.75,294.34 L114.17,295.06 L114.58,295.45 L115.00,295.02 L115.42,295.60 L115.83,295.05 L116.25,295.41 L116.67,294.60 L117.08,295.37 L117.50,294.46 L117.92,295.15 L118.33,294.63 L118.75,294.62 L119.17,295.27 L119.58,295.06 L120.00,294.46 L120.42,295.26 L120.83,294.48 L121.25,294.61 L121.67,294.59 L122.08,294.88 L122.50,294.83 L122.92,294.30 L123.33,294.68 L123.75,294.73 L124.17,294.35 L124.58,294.29 L125.00,294.23 L125.42,294.51 L125.83,294.06 L126.25,294.25 L126.67,294.17 L127.08,294.15 L127.50,293.86 L127.92,294.01 L128.33,293.84 L128.75,294.09 L129.17,293.96 L129.58,293.74 L130.00,293.77 L130.42,293.62 L130.83,293.81 L131.25,293.49 L131.67,293.60 L132.08,293.60 L132.50,293.34 L132.92,293.47 L133.33,293.35 L133.75,293.49 L134.17,293.01 L134.58,293.23 L135.00,293.11 L135.44,293.02 L135.88,293.09 L136.31,293.09 L136.75,293.13 L137.19,293.01 L137.62,292.95 L138.06,292.81 L138.50,292.66" fill="none" stroke="#009e73" stroke-width="2" stroke-linejoin="round" stroke-linecap="butt"/>
<rect x="74.1" y="51.7" width="1.9" height="1.1" fill="#35006a"/>
<path d="M448.8,29.60 H461" stroke="#009e73" stroke-width="2" fill="none"/>
<path d="M448.8,43.15 H461" stroke="#e69f00" stroke-width="2" fill="none"/>
<path d="M448.8,56.70 H461" stroke="#000000" stroke-width="2" fill="none"/>
<path d="M448.8,70.25 H461" stroke="#0072b2" stroke-width="2" fill="none"/>
<path d="M448.8,83.80 H461" stroke="#56b4e9" stroke-width="2" fill="none"/>
<path d="M448.8,97.35 H461" stroke="#9400d3" stroke-width="2" fill="none"/>
<rect x="209.0" y="46.5" width="163.5" height="89.9" fill="#fff" stroke="none"/>
<path d="M209,135.5 L372.4,46.6" fill="none" stroke="#000" stroke-width="1.3" stroke-dasharray="2.3 2.97"/>
<rect x="205.8" y="133.20000000000002" width="6.4" height="6.4" fill="#e51e10"/>
<g stroke="#222" stroke-width="0.85" fill="none" stroke-opacity="0.9">
<rect x="209.0" y="46.5" width="163.5" height="89.9"/>
<path d="M261.6,136.4 v-4.4 M261.6,46.5 v4.4"/>
<path d="M313.6,136.4 v-4.4 M313.6,46.5 v4.4"/>
<path d="M365.6,136.4 v-4.4 M365.6,46.5 v4.4"/>
<path d="M209.0,58.4 h4.4 M372.5,58.4 h-4.4"/>
<path d="M209.0,87.5 h4.4 M372.5,87.5 h-4.4"/>
<path d="M209.0,116.6 h4.4 M372.5,116.6 h-4.4"/>
</g>
<circle cx="275.7" cy="99.2" r="3.4" fill="#000"/>
<circle cx="290.7" cy="90.3" r="3.4" fill="#000"/>
<circle cx="303.5" cy="83.2" r="3.4" fill="#000"/>
<circle cx="324.5" cy="72.2" r="3.4" fill="#000"/>
<circle cx="342.3" cy="62.5" r="3.4" fill="#000"/>
<circle cx="372.4" cy="46.6" r="3.4" fill="#000"/>
</svg>
</body></html>
